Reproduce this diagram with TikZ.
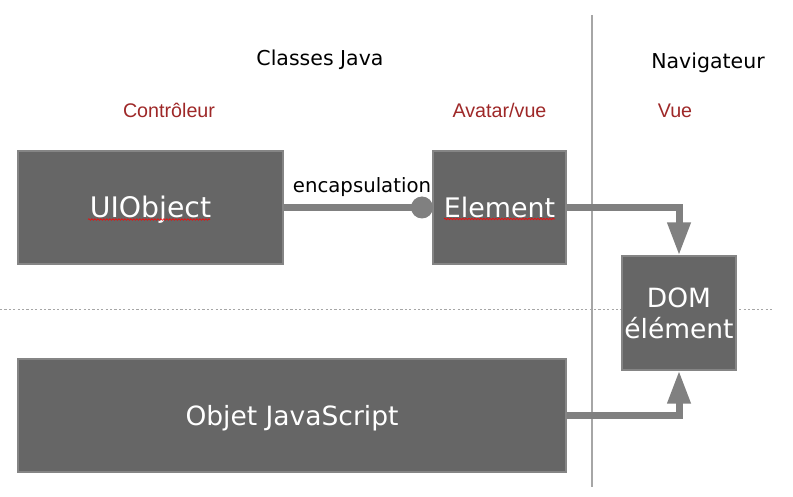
\documentclass[tikz,border=0pt]{standalone}
\usepackage{fontspec}
\setmainfont{DejaVu Sans}
\newfontfamily\arialfont{Liberation Sans}
\usetikzlibrary{arrows.meta,decorations.pathmorphing}
\definecolor{boxfill}{HTML}{666666}
\definecolor{boxedge}{HTML}{858585}
\definecolor{conn}{HTML}{808080}
\definecolor{sep}{HTML}{A6A6A6}
\definecolor{darkred}{RGB}{158,40,40}
\tikzset{
  box/.style={rectangle, fill=boxfill, draw=boxedge, line width=1.3pt, inner sep=0pt,
    text=white, font=\fontsize{26.5}{31}\selectfont},
  boxt/.style={box, text height=19.3pt, text depth=0pt},
  head/.style={anchor=base, font=\fontsize{20.5}{24}\selectfont, text=black},
  sub/.style={anchor=base, font=\arialfont\fontsize{19.7}{23}\selectfont, text=darkred},
  conn/.style={draw=conn, line width=7pt},
  tip/.style={-{Triangle[length=33pt,width=22pt]}},
  spell/.style={draw=red, line width=0.6pt, decorate,
    decoration={snake, segment length=3pt, amplitude=0.8pt}},
}
\begin{document}
\begin{tikzpicture}[x=1pt,y=-1pt]
\useasboundingbox (0,0) rectangle (793,497);
% separators
\draw[sep, line width=1.3pt] (592,15) coordinate (vt) -- (592,487) coordinate (vb);
\draw[sep, line width=1pt, dash pattern=on 2.2pt off 2.2pt] (0,309.5) coordinate (hl) -- (773,309.5) coordinate (hr);
% headings
\node[head] (hjava) at (320,66) {Classes Java};
\node[head] (hnav) at (708,69) {Navigateur};
\node[sub] (sctl) at (169,117.3) {Contrôleur};
\node[sub] (sav) at (499.5,117.3) {Avatar/vue};
\node[sub] (svue) at (675,117.3) {Vue};
% boxes
\node[boxt, minimum width=265pt, minimum height=113pt, font=\fontsize{28.3}{31}\selectfont, text height=20pt] (ui) at (150.5,207.5) {UIObject};
\node[boxt, minimum width=133pt, minimum height=113pt, font=\fontsize{26.9}{31}\selectfont] (el) at (499.5,207.5) {Element};
\node[box, minimum width=114pt, minimum height=114pt, align=center] (dom) at (679,313) {DOM\\élément};
\node[boxt, minimum width=548pt, minimum height=113pt] (js) at (292,415.5) {Objet JavaScript};
% spell-check underlines
\draw[spell] (88,219.5) coordinate (u1) -- (210,219.5) coordinate (u2);
\draw[spell] (444,219) coordinate (u3) -- (555,219) coordinate (u4);
% encapsulation connector
\node[circle, fill=conn, inner sep=0pt, minimum size=22pt] (dot) at (422,207.5) {};
\draw[conn] (ui.east) -- (dot.center);
\node[anchor=base, font=\fontsize{19.7}{23}\selectfont] (enc) at (362,193) {encapsulation};
% arrows to DOM
\draw[conn, tip] (el.east) -| (dom.north);
\draw[conn, tip] (js.east) -| (dom.south);
\end{tikzpicture}
\end{document}
